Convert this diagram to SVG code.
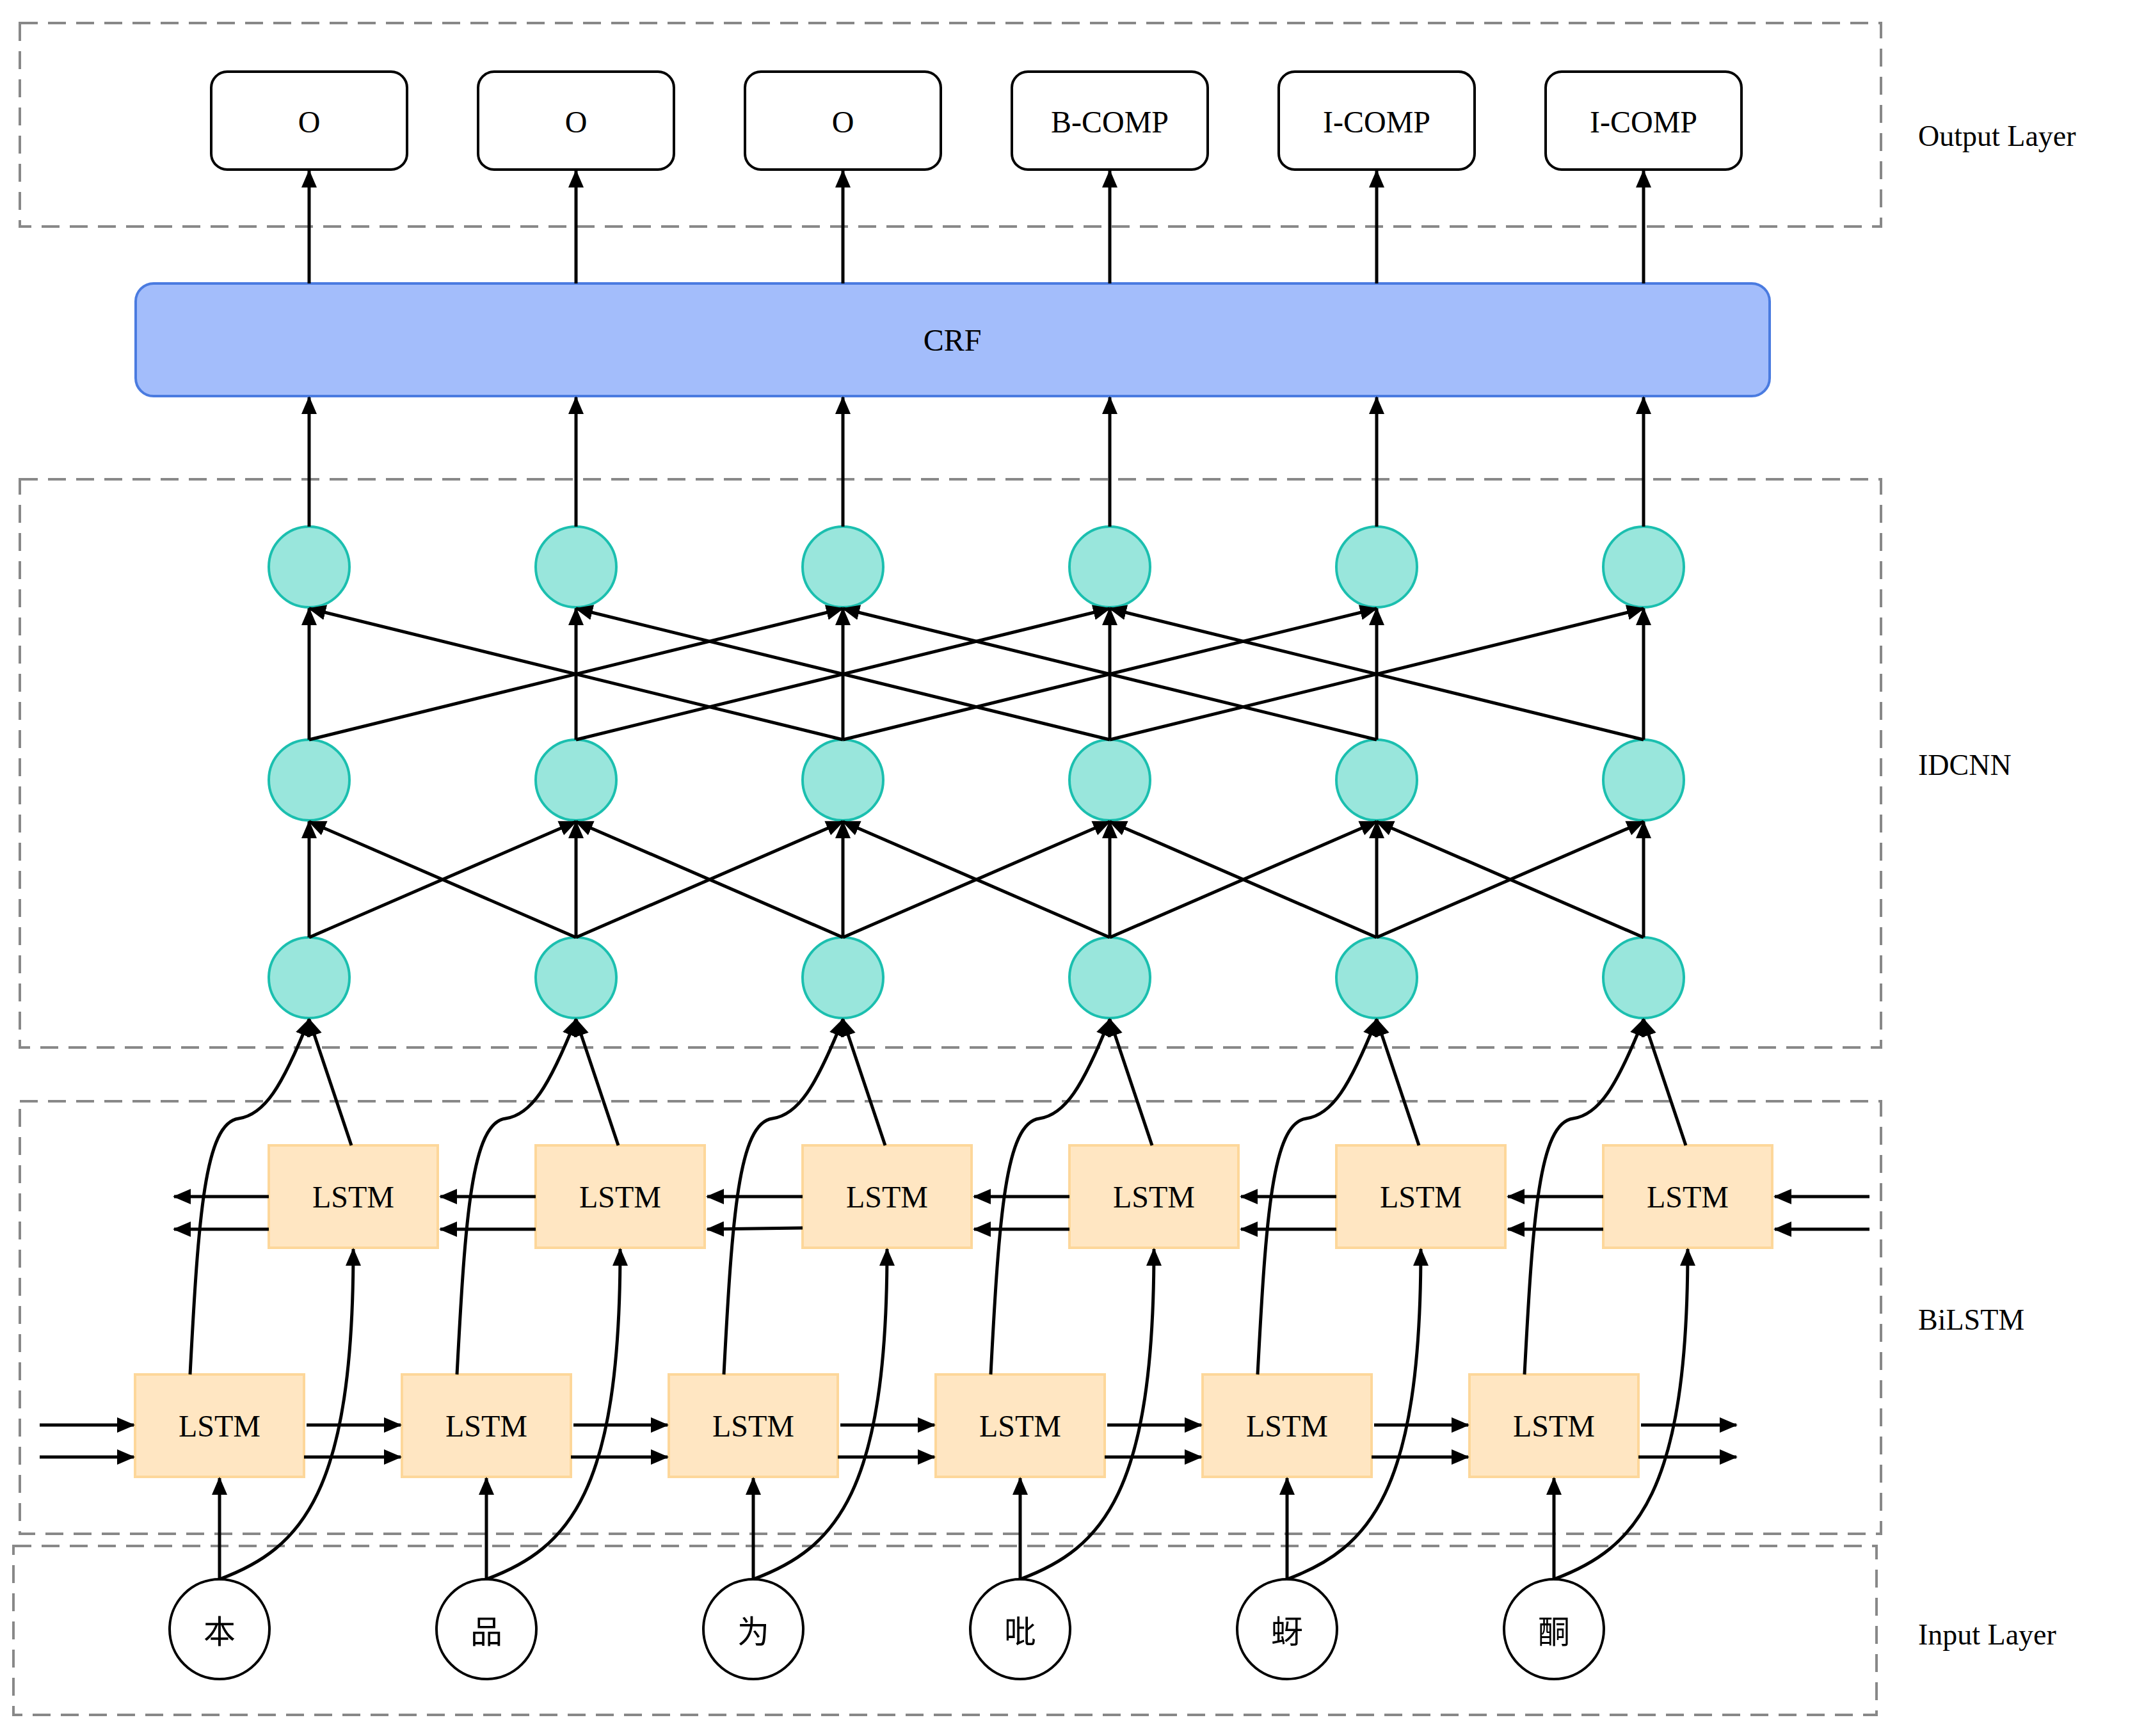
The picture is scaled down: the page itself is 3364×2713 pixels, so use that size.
<svg xmlns="http://www.w3.org/2000/svg" width="3364" height="2713" viewBox="0 0 3364 2713">
<style>
.dash{fill:none;stroke:#888;stroke-width:4;stroke-dasharray:28,16}
.out{fill:#fff;stroke:#000;stroke-width:4}
.crf{fill:#A3BDFB;stroke:#4A7BE0;stroke-width:4}
.cir{fill:#99E6DC;stroke:#1BBFAF;stroke-width:4}
.lstm{fill:#FFE6C2;stroke:#FDD79A;stroke-width:4}
.inp{fill:#fff;stroke:#000;stroke-width:4}
.t{font-family:"Liberation Serif",serif;font-size:48px;text-anchor:middle;dominant-baseline:central;fill:#000}
.lb{font-family:"Liberation Serif",serif;font-size:46px;fill:#000;dominant-baseline:central}
.cj{font-family:"Noto Sans CJK SC",sans-serif;font-size:50px;text-anchor:middle;dominant-baseline:central}
#conn path,#conn line{fill:none;stroke:#000;stroke-width:5;marker-end:url(#ah)}
</style>
<defs><marker id="ah" markerUnits="userSpaceOnUse" markerWidth="28" markerHeight="24" refX="26" refY="12" orient="auto"><path d="M0,0 L28,12 L0,24 z" fill="#000"/></marker></defs>
<g id="layers">
<rect class="dash" x="31" y="36" width="2908" height="318"/>
<rect class="dash" x="31" y="749" width="2908" height="888"/>
<rect class="dash" x="31" y="1721" width="2908" height="676"/>
<rect class="dash" x="21" y="2416" width="2911" height="264"/>
<text class="lb" x="2997" y="212">Output Layer</text>
<text class="lb" x="2997" y="1195">IDCNN</text>
<text class="lb" x="2997" y="2062">BiLSTM</text>
<text class="lb" x="2997" y="2554">Input Layer</text>
</g>
<g id="outputs">
<rect class="out" x="330" y="112" width="306" height="153" rx="25"/><text class="t" x="483" y="190">O</text>
<rect class="out" x="747" y="112" width="306" height="153" rx="25"/><text class="t" x="900" y="190">O</text>
<rect class="out" x="1164" y="112" width="306" height="153" rx="25"/><text class="t" x="1317" y="190">O</text>
<rect class="out" x="1581" y="112" width="306" height="153" rx="25"/><text class="t" x="1734" y="190">B-COMP</text>
<rect class="out" x="1998" y="112" width="306" height="153" rx="25"/><text class="t" x="2151" y="190">I-COMP</text>
<rect class="out" x="2415" y="112" width="306" height="153" rx="25"/><text class="t" x="2568" y="190">I-COMP</text>
</g>
<g id="crf"><rect class="crf" x="212" y="443" width="2553" height="176" rx="28"/><text class="t" x="1488" y="531">CRF</text></g>
<g id="idcnn">
<circle class="cir" cx="483" cy="886" r="63"/><circle class="cir" cx="900" cy="886" r="63"/><circle class="cir" cx="1317" cy="886" r="63"/><circle class="cir" cx="1734" cy="886" r="63"/><circle class="cir" cx="2151" cy="886" r="63"/><circle class="cir" cx="2568" cy="886" r="63"/>
<circle class="cir" cx="483" cy="1219" r="63"/><circle class="cir" cx="900" cy="1219" r="63"/><circle class="cir" cx="1317" cy="1219" r="63"/><circle class="cir" cx="1734" cy="1219" r="63"/><circle class="cir" cx="2151" cy="1219" r="63"/><circle class="cir" cx="2568" cy="1219" r="63"/>
<circle class="cir" cx="483" cy="1528" r="63"/><circle class="cir" cx="900" cy="1528" r="63"/><circle class="cir" cx="1317" cy="1528" r="63"/><circle class="cir" cx="1734" cy="1528" r="63"/><circle class="cir" cx="2151" cy="1528" r="63"/><circle class="cir" cx="2568" cy="1528" r="63"/>
</g>
<g id="bilstm">
<rect class="lstm" x="420" y="1790" width="264" height="160"/><text class="t" x="552" y="1870">LSTM</text>
<rect class="lstm" x="837" y="1790" width="264" height="160"/><text class="t" x="969" y="1870">LSTM</text>
<rect class="lstm" x="1254" y="1790" width="264" height="160"/><text class="t" x="1386" y="1870">LSTM</text>
<rect class="lstm" x="1671" y="1790" width="264" height="160"/><text class="t" x="1803" y="1870">LSTM</text>
<rect class="lstm" x="2088" y="1790" width="264" height="160"/><text class="t" x="2220" y="1870">LSTM</text>
<rect class="lstm" x="2505" y="1790" width="264" height="160"/><text class="t" x="2637" y="1870">LSTM</text>
<rect class="lstm" x="211" y="2148" width="264" height="160"/><text class="t" x="343" y="2228">LSTM</text>
<rect class="lstm" x="628" y="2148" width="264" height="160"/><text class="t" x="760" y="2228">LSTM</text>
<rect class="lstm" x="1045" y="2148" width="264" height="160"/><text class="t" x="1177" y="2228">LSTM</text>
<rect class="lstm" x="1462" y="2148" width="264" height="160"/><text class="t" x="1594" y="2228">LSTM</text>
<rect class="lstm" x="1879" y="2148" width="264" height="160"/><text class="t" x="2011" y="2228">LSTM</text>
<rect class="lstm" x="2296" y="2148" width="264" height="160"/><text class="t" x="2428" y="2228">LSTM</text>
</g>
<g id="inputs">
<circle class="inp" cx="343" cy="2546" r="78"/><text class="cj" x="343" y="2546">本</text>
<circle class="inp" cx="760" cy="2546" r="78"/><text class="cj" x="760" y="2546">品</text>
<circle class="inp" cx="1177" cy="2546" r="78"/><text class="cj" x="1177" y="2546">为</text>
<circle class="inp" cx="1594" cy="2546" r="78"/><text class="cj" x="1594" y="2546">吡</text>
<circle class="inp" cx="2011" cy="2546" r="78"/><text class="cj" x="2011" y="2546">蚜</text>
<circle class="inp" cx="2428" cy="2546" r="78"/><text class="cj" x="2428" y="2546">酮</text>
</g>
<g id="conn">
<line x1="483" y1="443" x2="483" y2="267"/><line x1="900" y1="443" x2="900" y2="267"/><line x1="1317" y1="443" x2="1317" y2="267"/><line x1="1734" y1="443" x2="1734" y2="267"/><line x1="2151" y1="443" x2="2151" y2="267"/><line x1="2568" y1="443" x2="2568" y2="267"/>
<line x1="483" y1="823" x2="483" y2="621"/><line x1="900" y1="823" x2="900" y2="621"/><line x1="1317" y1="823" x2="1317" y2="621"/><line x1="1734" y1="823" x2="1734" y2="621"/><line x1="2151" y1="823" x2="2151" y2="621"/><line x1="2568" y1="823" x2="2568" y2="621"/>
<line x1="483" y1="1156" x2="483" y2="951"/><line x1="900" y1="1156" x2="900" y2="951"/><line x1="1317" y1="1156" x2="1317" y2="951"/><line x1="1734" y1="1156" x2="1734" y2="951"/><line x1="2151" y1="1156" x2="2151" y2="951"/><line x1="2568" y1="1156" x2="2568" y2="951"/>
<line x1="483" y1="1156" x2="1317" y2="951"/><line x1="900" y1="1156" x2="1734" y2="951"/><line x1="1317" y1="1156" x2="2151" y2="951"/><line x1="1734" y1="1156" x2="2568" y2="951"/>
<line x1="1317" y1="1156" x2="483" y2="951"/><line x1="1734" y1="1156" x2="900" y2="951"/><line x1="2151" y1="1156" x2="1317" y2="951"/><line x1="2568" y1="1156" x2="1734" y2="951"/>
<line x1="483" y1="1465" x2="483" y2="1284"/><line x1="900" y1="1465" x2="900" y2="1284"/><line x1="1317" y1="1465" x2="1317" y2="1284"/><line x1="1734" y1="1465" x2="1734" y2="1284"/><line x1="2151" y1="1465" x2="2151" y2="1284"/><line x1="2568" y1="1465" x2="2568" y2="1284"/>
<line x1="483" y1="1465" x2="900" y2="1284"/><line x1="900" y1="1465" x2="1317" y2="1284"/><line x1="1317" y1="1465" x2="1734" y2="1284"/><line x1="1734" y1="1465" x2="2151" y2="1284"/><line x1="2151" y1="1465" x2="2568" y2="1284"/>
<line x1="900" y1="1465" x2="483" y2="1284"/><line x1="1317" y1="1465" x2="900" y2="1284"/><line x1="1734" y1="1465" x2="1317" y2="1284"/><line x1="2151" y1="1465" x2="1734" y2="1284"/><line x1="2568" y1="1465" x2="2151" y2="1284"/>
<line x1="549" y1="1790" x2="483" y2="1593"/><line x1="966" y1="1790" x2="900" y2="1593"/><line x1="1383" y1="1790" x2="1317" y2="1593"/><line x1="1800" y1="1790" x2="1734" y2="1593"/><line x1="2217" y1="1790" x2="2151" y2="1593"/><line x1="2634" y1="1790" x2="2568" y2="1593"/>
<path d="M297,2148 C310,1900 320,1755 373,1748 C413,1742 440,1700 483,1593"/>
<path d="M714,2148 C727,1900 737,1755 790,1748 C830,1742 857,1700 900,1593"/>
<path d="M1131,2148 C1144,1900 1154,1755 1207,1748 C1247,1742 1274,1700 1317,1593"/>
<path d="M1548,2148 C1561,1900 1571,1755 1624,1748 C1664,1742 1691,1700 1734,1593"/>
<path d="M1965,2148 C1978,1900 1988,1755 2041,1748 C2081,1742 2108,1700 2151,1593"/>
<path d="M2382,2148 C2395,1900 2405,1755 2458,1748 C2498,1742 2525,1700 2568,1593"/>
<line x1="343" y1="2468" x2="343" y2="2310"/><line x1="760" y1="2468" x2="760" y2="2310"/><line x1="1177" y1="2468" x2="1177" y2="2310"/><line x1="1594" y1="2468" x2="1594" y2="2310"/><line x1="2011" y1="2468" x2="2011" y2="2310"/><line x1="2428" y1="2468" x2="2428" y2="2310"/>
<path d="M343,2468 C473,2420 552,2330 552,1952"/>
<path d="M760,2468 C890,2420 969,2330 969,1952"/>
<path d="M1177,2468 C1307,2420 1386,2330 1386,1952"/>
<path d="M1594,2468 C1724,2420 1803,2330 1803,1952"/>
<path d="M2011,2468 C2141,2420 2220,2330 2220,1952"/>
<path d="M2428,2468 C2558,2420 2637,2330 2637,1952"/>
<line x1="62" y1="2227" x2="209" y2="2227"/><line x1="62" y1="2277" x2="209" y2="2277"/>
<line x1="479" y1="2227" x2="626" y2="2227"/><line x1="475" y1="2277" x2="626" y2="2277"/>
<line x1="896" y1="2227" x2="1043" y2="2227"/><line x1="892" y1="2277" x2="1043" y2="2277"/>
<line x1="1313" y1="2227" x2="1460" y2="2227"/><line x1="1309" y1="2277" x2="1460" y2="2277"/>
<line x1="1730" y1="2227" x2="1877" y2="2227"/><line x1="1726" y1="2277" x2="1877" y2="2277"/>
<line x1="2147" y1="2227" x2="2294" y2="2227"/><line x1="2143" y1="2277" x2="2294" y2="2277"/>
<line x1="2564" y1="2227" x2="2713" y2="2227"/><line x1="2560" y1="2277" x2="2713" y2="2277"/>
<line x1="420" y1="1870" x2="272" y2="1870"/><line x1="420" y1="1921" x2="272" y2="1921"/>
<line x1="837" y1="1870" x2="688" y2="1870"/><line x1="837" y1="1921" x2="688" y2="1921"/>
<line x1="1254" y1="1870" x2="1105" y2="1870"/><line x1="1254" y1="1919" x2="1105" y2="1921"/>
<line x1="1671" y1="1870" x2="1522" y2="1870"/><line x1="1671" y1="1921" x2="1522" y2="1921"/>
<line x1="2088" y1="1870" x2="1939" y2="1870"/><line x1="2088" y1="1921" x2="1939" y2="1921"/>
<line x1="2505" y1="1870" x2="2356" y2="1870"/><line x1="2505" y1="1921" x2="2356" y2="1921"/>
<line x1="2921" y1="1870" x2="2773" y2="1870"/><line x1="2921" y1="1921" x2="2773" y2="1921"/>
</g>
</svg>
